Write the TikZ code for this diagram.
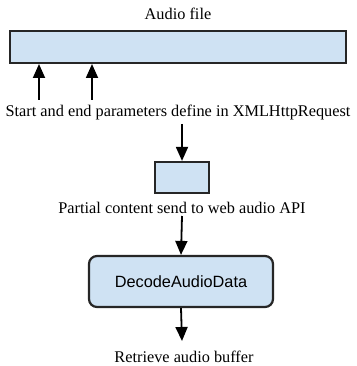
\documentclass[tikz,border=0pt]{standalone}
\usepackage{fontspec}
\setmainfont{Liberation Serif}
\setsansfont{Liberation Sans}
\usetikzlibrary{arrows.meta}
\definecolor{boxfill}{HTML}{CFE2F3}
\tikzset{
  boxstyle/.style={draw=black!85, line width=2.2pt, fill=boxfill, inner sep=0pt},
  lbl/.style={font=\fontsize{16.3}{18}\selectfont, inner sep=0pt},
  arr/.style={line width=1.8pt, -{Triangle[length=14pt,width=12pt]}},
}
\begin{document}
\begin{tikzpicture}[x=1pt,y=-1pt]
\useasboundingbox (0,0) rectangle (356,366);
\node[lbl] (title) at (178,14) {Audio file};
\node[boxstyle, minimum width=336pt, minimum height=32pt] (file) at (178,47) {};
\node[lbl] (params) at (178,112) {Start and end parameters define in XMLHttpRequest};
\coordinate (s1) at (39,100);
\coordinate (e1) at (39,64);
\coordinate (s2) at (92,100);
\coordinate (e2) at (92,64);
\draw[arr] (s1) -- (e1);
\draw[arr] (s2) -- (e2);
\node[boxstyle, minimum width=54pt, minimum height=31pt] (part) at (182,177.5) {};
\coordinate (p1) at (182,124);
\draw[arr] (p1) -- (part.north);
\node[lbl] (partial) at (182,208) {Partial content send to web audio API};
\node[boxstyle, rounded corners=8pt, minimum width=184pt, minimum height=51pt, font=\sffamily\fontsize{16.3}{18}\selectfont] (decode) at (181,281.5) {DecodeAudioData};
\coordinate (p2) at (182,216);
\draw[arr] (p2) -- (decode.north);
\node[lbl] (retr) at (184,357) {Retrieve audio buffer};
\coordinate (p3) at (182,341);
\draw[arr] (decode.south) -- (p3);
\end{tikzpicture}
\end{document}
